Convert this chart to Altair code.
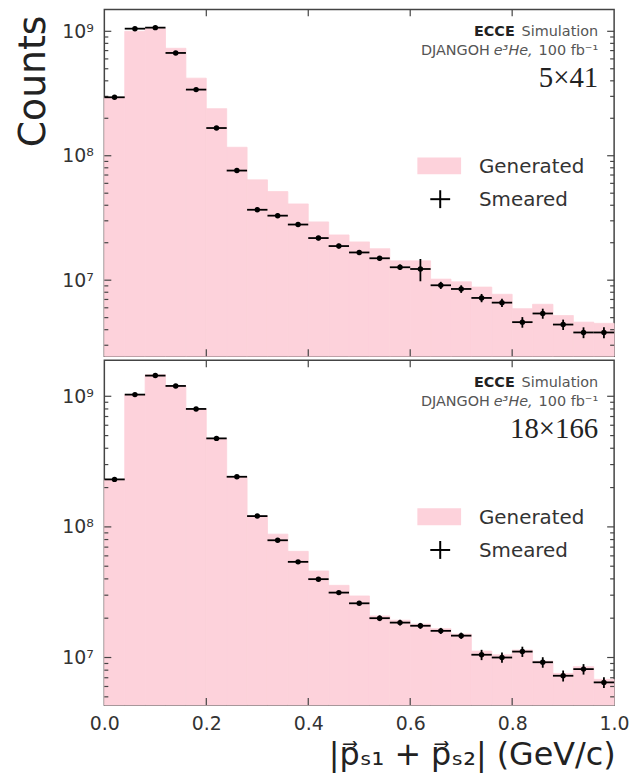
import altair as alt
import pandas as pd

# Bin edges of |p_s1 + p_s2| in GeV/c (25 bins of 0.04)
edges = [0.00, 0.04, 0.08, 0.12, 0.16, 0.20, 0.24, 0.28, 0.32, 0.36, 0.40, 0.44, 0.48,
         0.52, 0.56, 0.60, 0.64, 0.68, 0.72, 0.76, 0.80, 0.84, 0.88, 0.92, 0.96, 1.00]

# 5x41 beam configuration
gen_5x41 = [2.95e8, 1.00e9, 1.05e9, 7.3e8, 4.2e8, 2.39e8, 1.17e8, 6.4e7, 5.15e7, 4.1e7,
            2.94e7, 2.31e7, 2.03e7, 1.79e7, 1.43e7, 1.43e7, 1.02e7, 9.7e6, 8.8e6, 7.7e6,
            5.9e6, 6.4e6, 5.2e6, 4.6e6, 4.5e6]
sm_5x41 = [2.95e8, 1.05e9, 1.07e9, 6.7e8, 3.4e8, 1.67e8, 7.6e7, 3.68e7, 3.3e7, 2.8e7,
           2.18e7, 1.88e7, 1.67e7, 1.5e7, 1.27e7, 1.23e7, 9.1e6, 8.5e6, 7.2e6, 6.6e6,
           4.6e6, 5.4e6, 4.4e6, 3.8e6, 3.8e6]
err_5x41 = [4.5e6, 1.6e7, 1.6e7, 1.0e7, 5.0e6, 2.5e6, 1.5e6, 1.5e6, 1.3e6, 1.1e6,
            0.9e6, 0.8e6, 0.7e6, 0.65e6, 0.65e6, 2.5e6, 0.6e6, 0.6e6, 0.55e6, 0.5e6,
            0.45e6, 0.5e6, 0.42e6, 0.38e6, 0.38e6]

# 18x166 beam configuration
gen_18x166 = [2.31e8, 1.03e9, 1.46e9, 1.2e9, 8.0e8, 4.76e8, 2.42e8, 1.21e8, 8.8e7, 6.5e7,
              4.6e7, 3.57e7, 2.96e7, 2.08e7, 1.93e7, 1.8e7, 1.66e7, 1.51e7, 1.12e7, 1.05e7,
              1.14e7, 9.4e6, 7.55e6, 8.5e6, 6.8e6]
sm_18x166 = [2.31e8, 1.03e9, 1.44e9, 1.2e9, 8.0e8, 4.76e8, 2.42e8, 1.21e8, 7.9e7, 5.4e7,
             3.98e7, 3.14e7, 2.6e7, 2.0e7, 1.85e7, 1.75e7, 1.6e7, 1.47e7, 1.05e7, 1.0e7,
             1.11e7, 9.2e6, 7.25e6, 8.15e6, 6.45e6]
err_18x166 = [4.5e6, 2.0e7, 2.8e7, 2.4e7, 1.6e7, 9.5e6, 4.8e6, 2.4e6, 1.6e6, 1.1e6,
              0.9e6, 0.8e6, 0.7e6, 1.0e6, 0.95e6, 0.9e6, 0.85e6, 0.8e6, 0.95e6, 0.9e6,
              1.0e6, 0.85e6, 0.7e6, 0.75e6, 0.6e6]

x_ticks = [0.0, 0.2, 0.4, 0.6, 0.8, 1.0]
y_major = [1e7, 1e8, 1e9]
minor_mant = [2, 3, 4, 5, 6, 7, 8, 9]
decades = [1e6, 1e7, 1e8, 1e9]

PINK = "#fdd2db"
INK = "#333333"
W = 513


def panel(gen, sm, err, ymin, ymax, height, beams, bottom):
    lo = edges[:-1]
    hi = edges[1:]
    df = pd.DataFrame({
        "lo": lo, "hi": hi,
        "c": [(a + b) / 2 for a, b in zip(lo, hi)],
        "gen": gen, "sm": sm,
        "elo": [s - e for s, e in zip(sm, err)],
        "ehi": [s + e for s, e in zip(sm, err)],
    })

    xscale = alt.Scale(domain=[0, 1], nice=False, zero=False)
    yscale = alt.Scale(type="log", domain=[ymin, ymax], nice=False, clamp=True)

    if bottom:
        xaxis = alt.Axis(values=x_ticks, format=".1f", ticks=False, domain=False, grid=False,
                         labelFontSize=19, labelColor=INK, labelFont="DejaVu Sans",
                         labelPadding=10, labelFlush=False, labelOverlap=False,
                         titleFontSize=32, titleFont="DejaVu Sans", titleFontWeight="normal",
                         titleColor="#222222", titleAlign="right", titleX=W + 1, titleY=60,
                         titleBaseline="alphabetic")
        xtitle = "|p\u20d7\u209b\u2081 + p\u20d7\u209b\u2082| (GeV/c)"
    else:
        xaxis = None
        xtitle = None

    yaxis_kw = dict(values=y_major,
                    labelExpr="datum.value >= 5e8 ? '10\u2079' : datum.value >= 5e7 ? '10\u2078' : '10\u2077'",
                    ticks=False, domain=False, grid=False, labelFontSize=19, labelColor=INK,
                    labelFont="DejaVu Sans", labelPadding=11, labelBaseline="middle")
    if bottom:
        yaxis = alt.Axis(**yaxis_kw)
        ytitle = None
    else:
        yaxis = alt.Axis(**yaxis_kw, titleFontSize=38, titleFont="DejaVu Sans",
                         titleFontWeight="normal", titleColor="#222222", titleAngle=270,
                         titleX=-60, titleY=72, titleAlign="center", titleBaseline="alphabetic")
        ytitle = "Counts"

    def X(f):
        return alt.X(f, type="quantitative", scale=xscale, axis=xaxis, title=xtitle)

    def Y(f):
        return alt.Y(f, type="quantitative", scale=yscale, axis=yaxis, title=ytitle)

    base = alt.Chart(df)
    bars = base.mark_rect(color=PINK, stroke=PINK, strokeWidth=0.8).encode(
        x=X("lo"), x2="hi", y=Y("gen"), y2=alt.datum(ymin))
    hbar = base.mark_rule(color="black", strokeWidth=1.8).encode(x=X("lo"), x2="hi", y=Y("sm"))
    vbar = base.mark_rule(color="black", strokeWidth=1.8).encode(x=X("c"), y=Y("elo"), y2="ehi")
    dots = base.mark_circle(color="black", size=30, opacity=1).encode(x=X("c"), y=Y("sm"))

    # inward-pointing frame ticks
    minor = [m * d for d in decades for m in minor_mant if ymin <= m * d <= ymax]
    ymaj = pd.DataFrame({"t": [v for v in y_major if ymin <= v <= ymax]})
    ymin_df = pd.DataFrame({"t": minor})
    xt = pd.DataFrame({"t": x_ticks[1:-1]})
    tick_style = dict(color="#444444", strokeWidth=1.2)
    ticks = [
        alt.Chart(ymaj).mark_rule(**tick_style).encode(y=Y("t"), x=alt.value(0), x2=alt.value(7)),
        alt.Chart(ymaj).mark_rule(**tick_style).encode(y=Y("t"), x=alt.value(W - 7), x2=alt.value(W)),
        alt.Chart(ymin_df).mark_rule(**tick_style).encode(y=Y("t"), x=alt.value(0), x2=alt.value(4)),
        alt.Chart(ymin_df).mark_rule(**tick_style).encode(y=Y("t"), x=alt.value(W - 4), x2=alt.value(W)),
        alt.Chart(xt).mark_rule(**tick_style).encode(x=X("t"), y=alt.value(0), y2=alt.value(7)),
        alt.Chart(xt).mark_rule(**tick_style).encode(x=X("t"), y=alt.value(height - 7), y2=alt.value(height)),
    ]

    one = pd.DataFrame({"k": [0]})

    def label(text, x, y, size, align="right", font="DejaVu Sans", weight="normal",
              style="normal", color=INK):
        return alt.Chart(one).mark_text(text=text, align=align, baseline="alphabetic",
                                        fontSize=size, font=font, fontWeight=weight,
                                        fontStyle=style, color=color).encode(
            x=alt.value(x), y=alt.value(y))

    notes = [
        label("ECCE", 413, 27, 14.5, weight="bold", color="#222222"),
        label("Simulation", 497, 27, 14.5, color="#555555"),
        label("DJANGOH", 388, 46, 14.5, color="#555555"),
        label("e\u00b3He,", 431, 46, 14.5, style="italic", color="#555555"),
        label("100 fb\u207b\u00b9", 497, 46, 14.5, color="#555555"),
        label(beams, 497, 78, 29, font="Liberation Serif", color="#222222"),
    ]

    legend = [
        alt.Chart(one).mark_rect(color=PINK).encode(
            x=alt.value(315), x2=alt.value(359), y=alt.value(149), y2=alt.value(166)),
        alt.Chart(one).mark_rule(color="black", strokeWidth=2).encode(
            x=alt.value(328), x2=alt.value(348), y=alt.value(191)),
        alt.Chart(one).mark_rule(color="black", strokeWidth=2).encode(
            x=alt.value(338), y=alt.value(182), y2=alt.value(200)),
        label("Generated", 377, 165, 20, align="left"),
        label("Smeared", 377, 198, 20, align="left"),
    ]

    return alt.layer(bars, *ticks, hbar, vbar, dots, *notes, *legend).properties(
        width=W, height=height)


top = panel(gen_5x41, sm_5x41, err_5x41, 2.45e6, 1.5e9, 349, "5\u00d741", bottom=False)
bot = panel(gen_18x166, sm_18x166, err_18x166, 4.33e6, 1.89e9, 347, "18\u00d7166", bottom=True)

chart = alt.vconcat(top, bot, spacing=0).properties(
    padding={"left": 14, "top": 5, "right": 3, "bottom": 0},
    background="white",
).configure_view(stroke="#444444", strokeWidth=1.5)

chart.save("out.html", embed_options={"renderer": "svg", "actions": False})
